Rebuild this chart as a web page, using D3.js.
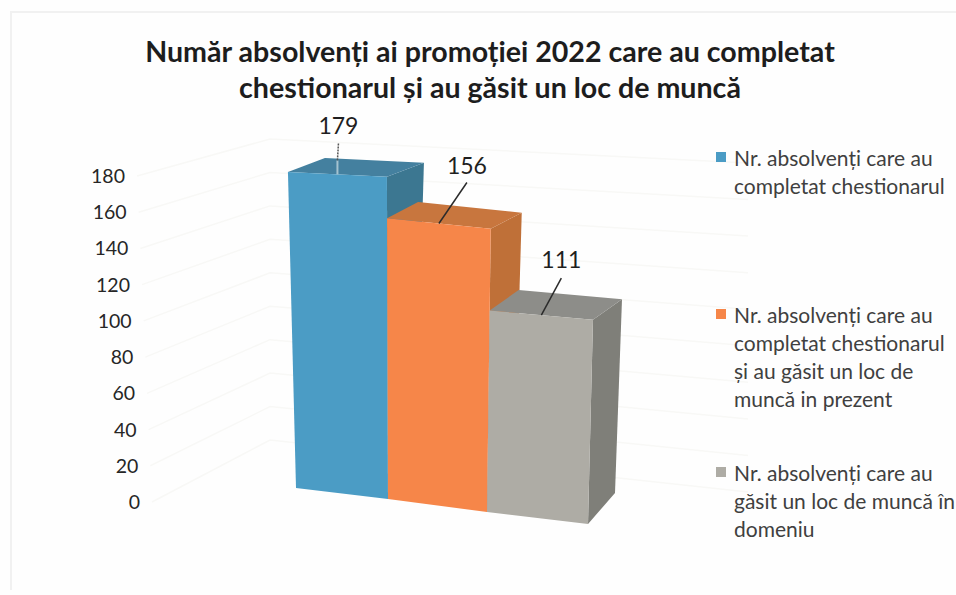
<!DOCTYPE html>
<html>
<head>
<meta charset="utf-8">
<script src="https://cdn.jsdelivr.net/npm/d3@7"></script>
<style>
    body { margin: 0; background: #fefefe; }
    text { font-family: Lato, "Open Sans", sans-serif; }
</style>
</head>
<body>
<div id="chart"></div>
<script>
// Chart data
const titleLines = [
    "Număr absolvenți ai promoției 2022 care au completat",
    "chestionarul și au găsit un loc de muncă"
];
const values = [179, 156, 111];
const tickValues = [0, 20, 40, 60, 80, 100, 120, 140, 160, 180];
const legendLabels = [
    ["Nr. absolvenți care au", "completat chestionarul"],
    ["Nr. absolvenți care au", "completat chestionarul", "și au găsit un loc de", "muncă in prezent"],
    ["Nr. absolvenți care au", "găsit un loc de muncă în", "domeniu"]
];

const width = 956;
const height = 595;

// front, top and side shade of each bar
const colors = [
    { front: "#4b9cc5", top: "#44809f", side: "#3c7791" },
    { front: "#f68649", top: "#c8763e", side: "#bf7038" },
    { front: "#aeaca5", top: "#8d8d89", side: "#7f7f79" }
];

const svg = d3.select("#chart").append("svg")
    .attr("width", width)
    .attr("height", height);

// Faint edge of the scanned page
svg.append("path")
    .attr("d", "M11,590V12H" + width)
    .attr("fill", "none")
    .attr("stroke", "#f1f1f1")
    .attr("stroke-width", 2);

// The 3D look: every scale is read along the bar row (u = 0..3) or the value
const slots = [0, 1, 2, 3];
const baseX = d3.scaleLinear().domain(slots).range([296, 388, 487, 588]);
const baseY = d3.scaleLinear().domain(slots).range([488, 499, 512, 524]);
const unitY = d3.scaleLinear().domain(slots).range([1.765, 1.80, 1.815, 1.84]);
const tiltX = d3.scaleLinear().domain(slots).range([-0.045, -0.006, 0.024, 0.045]);
const depthX = d3.scaleLinear().domain([0, 111, 156, 179]).range([27, 29, 31, 37]);
const depthY = d3.scaleLinear().domain([0, 179]).range([-31, -14]);

function front(u, v) {
    return [baseX(u) + tiltX(u) * v, baseY(u) - unitY(u) * v];
}
function back(u, v) {
    const p = front(u, v);
    return [p[0] + depthX(v), p[1] + depthY(v)];
}

// Axis labels lean with the left wall
const tickY = d3.scaleLinear().domain([0, 180]).range([502, 176]);
const tickX = d3.scaleLinear().domain([0, 180]).range([140, 125]);

// Wall gridlines
const wallCornerX = 270;
const wallEndX = 748;
const wallCornerY = d3.scaleLinear().domain([0, 180]).range([440, 139]);
const wallEndY = d3.scaleLinear().domain([0, 180]).range([492, 163]);

const gridLine = d3.line();
svg.append("g")
    .selectAll("path")
    .data(tickValues)
    .enter()
    .append("path")
    .attr("d", d => gridLine([
        [tickX(d) + 12, tickY(d)],
        [wallCornerX, wallCornerY(d)],
        [wallEndX, wallEndY(d)]
    ]))
    .attr("fill", "none")
    .attr("stroke", "#f8f8f6")
    .attr("stroke-width", 1.5);

// Tick labels
svg.append("g")
    .selectAll("text")
    .data(tickValues)
    .enter()
    .append("text")
    .attr("x", d => tickX(d))
    .attr("y", d => tickY(d))
    .attr("dy", "0.36em")
    .attr("text-anchor", "end")
    .attr("font-size", "19.5px")
    .attr("fill", "#262626")
    .text(d => d);

// Bars, drawn back to front so each one covers the side of the previous
const bars = svg.append("g");
const polygon = points => "M" + points.join("L") + "Z";

values.forEach((value, i) => {
    const u0 = i;
    const u1 = i + 1;
    const bar = bars.append("g");

    bar.append("path")
        .attr("d", polygon([front(u1, value), back(u1, value), back(u1, 0), front(u1, 0)]))
        .attr("fill", colors[i].side);
    bar.append("path")
        .attr("d", polygon([front(u0, value), back(u0, value), back(u1, value), front(u1, value)]))
        .attr("fill", colors[i].top);
    bar.append("path")
        .attr("d", polygon([front(u0, value), front(u1, value), front(u1, 0), front(u0, 0)]))
        .attr("fill", colors[i].front);
});

// Data labels and their leader lines, measured from the middle of each bar's top edge
const labelOffsets = [[1, -49], [28, -58], [20, -55]];
const leaderStarts = [[1, -31], [28, -41], [20, -37]];

values.forEach((value, i) => {
    const anchor = front(i + 0.5, value);
    // the first leader fades to a pale line where it crosses the top of the bar
    const leaderEnd = i === 0 ? [anchor[0], back(i + 0.5, value)[1]] : anchor;
    if (i === 0) {
        svg.append("line")
            .attr("x1", leaderEnd[0])
            .attr("y1", leaderEnd[1])
            .attr("x2", anchor[0])
            .attr("y2", anchor[1])
            .attr("stroke", "#a4c3d0")
            .attr("stroke-width", 2);
    }
    svg.append("line")
        .attr("x1", anchor[0] + leaderStarts[i][0])
        .attr("y1", anchor[1] + leaderStarts[i][1])
        .attr("x2", leaderEnd[0])
        .attr("y2", leaderEnd[1])
        .attr("stroke", i === 0 ? "#555" : "#2b2b2b")
        .attr("stroke-width", 1.5)
        .attr("stroke-dasharray", i === 0 ? "2 1" : null);
    svg.append("text")
        .attr("x", anchor[0] + labelOffsets[i][0])
        .attr("y", anchor[1] + labelOffsets[i][1])
        .attr("dy", "0.36em")
        .attr("text-anchor", "middle")
        .attr("font-size", "23px")
        .attr("fill", "#1f1f1f")
        .text(value);
});

// Title
svg.append("g")
    .selectAll("text")
    .data(titleLines)
    .enter()
    .append("text")
    .attr("x", 490)
    .attr("y", (d, i) => 62 + i * 36)
    .attr("text-anchor", "middle")
    .attr("font-size", "28.6px")
    .attr("font-weight", "bold")
    .attr("fill", "#1d1d1d")
    .text(d => d);

// Legend
const legendTops = [158, 315, 473];
const lineGap = 28;
legendLabels.forEach((lines, i) => {
    svg.append("rect")
        .attr("x", 716)
        .attr("y", legendTops[i] - 6)
        .attr("width", 10)
        .attr("height", 10)
        .attr("fill", colors[i].front);
    lines.forEach((line, j) => {
        svg.append("text")
            .attr("x", 734)
            .attr("y", legendTops[i] + j * lineGap)
            .attr("dy", "0.36em")
            .attr("font-size", "21px")
            .attr("fill", "#404040")
            .text(line);
    });
});
</script>
</body>
</html>
